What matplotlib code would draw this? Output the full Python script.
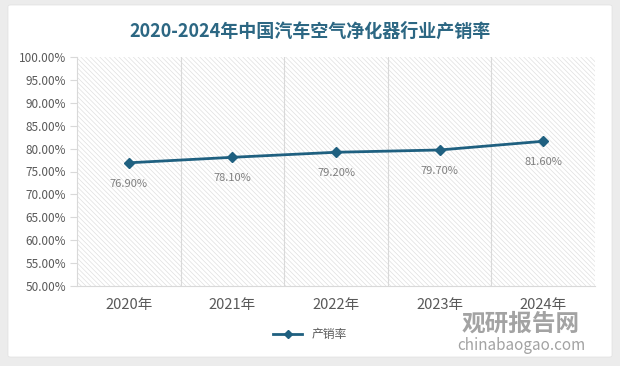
import matplotlib.pyplot as plt
from matplotlib.patches import FancyBboxPatch
from matplotlib.lines import Line2D
import matplotlib as mpl

plt.rcParams['font.family'] = ['Noto Sans CJK SC', 'DejaVu Sans']
mpl.rcParams['hatch.color'] = '#dedede'
mpl.rcParams['hatch.linewidth'] = 0.5

# 数据
years = ['2020年', '2021年', '2022年', '2023年', '2024年']
rate = [76.90, 78.10, 79.20, 79.70, 81.60]
yticks = [50, 55, 60, 65, 70, 75, 80, 85, 90, 95, 100]

line_color = '#1f6080'
grey = '#595959'

fig = plt.figure(figsize=(6.2, 3.66), dpi=100, facecolor='#ececec')

# 白色卡片背景
card = FancyBboxPatch((8 / 620, 9 / 366), 604 / 620, 352 / 366,
                      boxstyle='round,pad=0,rounding_size=0.004',
                      transform=fig.transFigure, facecolor='white',
                      edgecolor='#e0e0e0', linewidth=0.5, zorder=-5)
fig.patches.append(card)

ax = fig.add_axes([77 / 620, 80 / 366, 518 / 620, 229 / 366])
ax.set_zorder(1)
ax.set_facecolor('white')
ax.patch.set_hatch('\\\\\\\\\\\\\\')
ax.patch.set_edgecolor('#e0e0e0')

x = list(range(len(years)))
ax.plot(x, rate, color=line_color, linewidth=2, marker='D', markersize=5, zorder=3)
for xi, v in zip(x, rate):
    ax.annotate(f'{v:.2f}%', (xi, v), xytext=(0, -15), textcoords='offset points',
                ha='center', va='center', fontsize=8, color='#7f7f7f')

ax.set_xlim(-0.5, 4.5)
ax.set_ylim(50, 100)
ax.set_yticks(yticks)
ax.set_yticklabels([f'{t:.2f}%' for t in yticks], fontsize=8.5, color=grey)
ax.set_xticks(x)
ax.set_xticklabels(years, fontsize=10.5, color=grey)
ax.tick_params(axis='x', length=0, pad=9)
ax.tick_params(axis='y', length=5, color='#d9d9d9', pad=3)

# 分类分隔线
for b in [0.5, 1.5, 2.5, 3.5]:
    ax.axvline(b, color='#d9d9d9', linewidth=0.8, zorder=1)

for s in ['top', 'right']:
    ax.spines[s].set_visible(False)
ax.spines['left'].set_color('#d9d9d9')
ax.spines['bottom'].set_color('#d9d9d9')

fig.text(0.5, 0.915, '2020-2024年中国汽车空气净化器行业产销率', ha='center', va='center',
         fontsize=13, fontweight='bold', color='#2c6783', zorder=5)

handle = Line2D([], [], color=line_color, linewidth=2, marker='D', markersize=4)
fig.legend([handle], ['产销率'], loc='center', bbox_to_anchor=(0.5, 0.085),
           frameon=False, fontsize=8.5, handlelength=2.5, labelcolor=grey)

# 水印
fig.text(0.745, 0.115, '观研报告网', fontsize=17, fontweight='bold', color='#8c8c8c',
         alpha=0.8, ha='left', va='center', zorder=5)
fig.text(0.738, 0.055, 'chinabaogao.com', fontsize=11, color='#8c8c8c',
         alpha=0.8, ha='left', va='center', zorder=5)

fig.savefig('out.png', dpi=100, facecolor=fig.get_facecolor())
